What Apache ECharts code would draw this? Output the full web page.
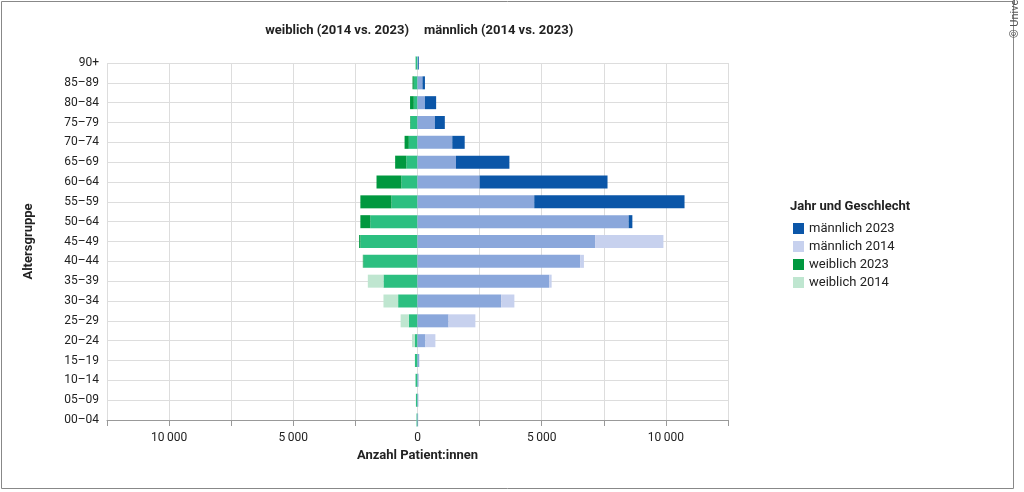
<!DOCTYPE html>
<html>
<head>
<meta charset="utf-8">
<script src="https://cdn.jsdelivr.net/npm/echarts@6/dist/echarts.min.js"></script>
<style>
  html, body { margin: 0; padding: 0; background: #fff; }
  #chart { width: 1024px; height: 492px; }
</style>
</head>
<body>
<div id="chart"></div>
<script>
var ageGroups = ['00–04','05–09','10–14','15–19','20–24','25–29','30–34','35–39','40–44','45–49',
                 '50–64','55–59','60–64','65–69','70–74','75–79','80–84','85–89','90+'];
var male2014   = [30, 40, 50, 80, 720, 2330, 3900, 5400, 6700, 9900, 8500, 4700, 2500, 1550, 1400, 700, 300, 200, 30];
var male2023   = [20, 30, 40, 60, 320, 1250, 3370, 5300, 6550, 7150, 8650, 10750, 7650, 3700, 1900, 1100, 750, 300, 60];
var female2014 = [50, 70, 90, 110, 220, 680, 1370, 2000, 2180, 2300, 1900, 1050, 650, 450, 350, 280, 150, 150, 100];
var female2023 = [40, 60, 80, 100, 100, 350, 780, 1370, 2200, 2350, 2300, 2300, 1650, 900, 520, 300, 300, 200, 80];

var col = {
  mDark: '#0b56a8', mMid: '#8aa7db', mLight: '#c7d1ee',
  fDark: '#00983f', fMid: '#2cbf80', fLight: '#bfe6d0'
};

function overlap(a, b, sign) {
  return a.map(function (v, i) { return sign * Math.min(v, b[i]); });
}
function excess(a, b, sign) {
  return a.map(function (v, i) { return sign * Math.max(0, v - b[i]); });
}

function bar(name, stack, data, color) {
  return { name: name, type: 'bar', stack: stack, data: data, barWidth: 13, barGap: '-100%',
           itemStyle: { color: color }, silent: true };
}

var myChart = echarts.init(document.getElementById('chart'));
var option = {
  animation: false,
  textStyle: { fontFamily: 'Roboto' },
  graphic: [
    { type: 'rect', shape: { x: 1.5, y: 1.5, width: 1012, height: 487 },
      style: { fill: 'none', stroke: '#888', lineWidth: 1 } },
    { type: 'text', x: 1010, y: 38, rotation: Math.PI / 2,
      style: { text: '© Universimed', fill: '#555', font: '11px Roboto' } },
    { type: 'text', x: 409, y: 31, style: { text: 'weiblich (2014 vs. 2023)', fill: '#222',
      font: 'bold 13px Roboto', align: 'right', verticalAlign: 'middle' } },
    { type: 'text', x: 424, y: 31, style: { text: 'männlich (2014 vs. 2023)', fill: '#222',
      font: 'bold 13px Roboto', align: 'left', verticalAlign: 'middle' } },
    { type: 'text', x: 790, y: 207, style: { text: 'Jahr und Geschlecht', fill: '#222',
      font: 'bold 13px Roboto', verticalAlign: 'middle' } }
  ],
  legend: {
    data: ['männlich 2023', 'männlich 2014', 'weiblich 2023', 'weiblich 2014'],
    orient: 'vertical', left: 788, top: 217, itemGap: 5,
    itemWidth: 11, itemHeight: 11, icon: 'rect',
    textStyle: { fontSize: 13, color: '#222' }
  },
  grid: { left: 107, right: 296, top: 63, bottom: 72 },
  xAxis: {
    type: 'value', min: -12500, max: 12500, interval: 2500,
    name: 'Anzahl Patient:innen', nameLocation: 'middle', nameGap: 28,
    nameTextStyle: { fontWeight: 'bold', fontSize: 13, color: '#222' },
    axisLine: { show: true, lineStyle: { color: '#999' } },
    axisTick: { show: true, length: 6, lineStyle: { color: '#999' } },
    splitLine: { lineStyle: { color: '#ddd' } },
    axisLabel: {
      color: '#222', fontSize: 12, margin: 12,
      formatter: function (v) {
        var a = Math.abs(v);
        if (a % 5000 !== 0) return '';
        return a >= 10000 ? String(a).replace(/(\d+)(\d{3})$/, '$1\u2009$2') : String(a).replace(/(\d)(\d{3})$/, '$1\u2009$2');
      }
    }
  },
  yAxis: {
    type: 'category', data: ageGroups, boundaryGap: false,
    name: 'Altersgruppe', nameLocation: 'middle', nameGap: 72, nameRotate: 90,
    nameTextStyle: { fontWeight: 'bold', fontSize: 13, color: '#222' },
    axisLine: { show: false }, axisTick: { show: false },
    splitLine: { show: true, lineStyle: { color: '#ddd' } },
    axisLabel: { color: '#222', fontSize: 12, margin: 8 }
  },
  series: [
    bar('weiblich beide', 'f', overlap(female2023, female2014, -1), col.fMid),
    bar('weiblich 2023', 'f', excess(female2023, female2014, -1), col.fDark),
    bar('weiblich 2014', 'f', excess(female2014, female2023, -1), col.fLight),
    bar('männlich beide', 'm', overlap(male2023, male2014, 1), col.mMid),
    bar('männlich 2023', 'm', excess(male2023, male2014, 1), col.mDark),
    bar('männlich 2014', 'm', excess(male2014, male2023, 1), col.mLight)
  ]
};
myChart.setOption(option);
window.addEventListener('resize', function () { myChart.resize(); });
</script>
</body>
</html>
